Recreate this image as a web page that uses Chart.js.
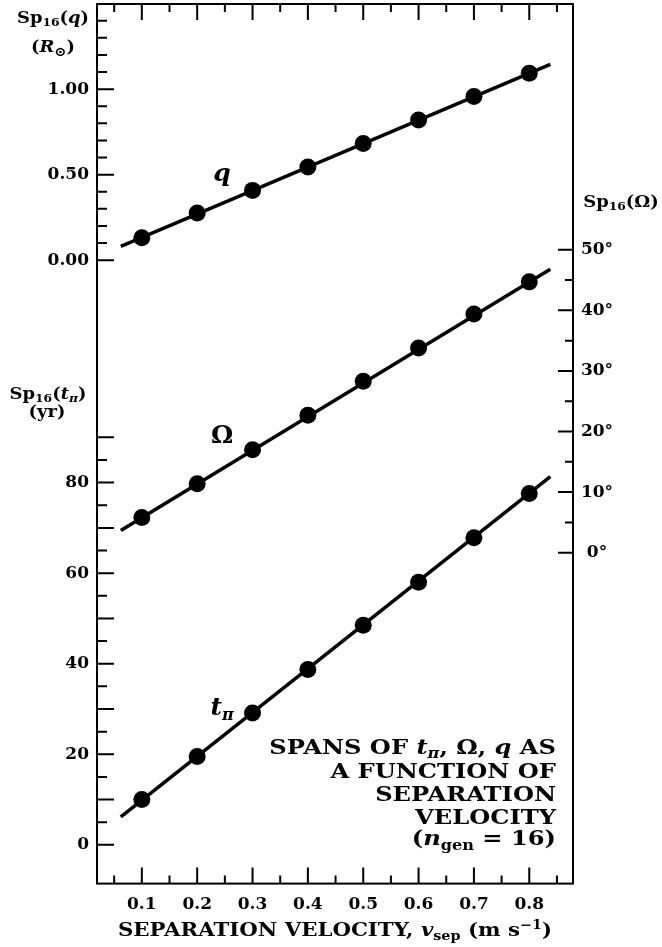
<!DOCTYPE html>
<html>
<head>
<meta charset="utf-8">
<script src="https://cdn.jsdelivr.net/npm/chart.js@4.4.1/dist/chart.umd.min.js"></script>
<style>
  html, body { margin: 0; padding: 0; background: #fff; }
  #wrap { width: 662px; height: 947px; }
</style>
</head>
<body>
<div id="wrap"><canvas id="spans" width="662" height="947"></canvas></div>
<script>
// separation velocity (m/s) and the three spans
const velocity = [0.1, 0.2, 0.3, 0.4, 0.5, 0.6, 0.7, 0.8];
const qSpan = [0.131, 0.276, 0.408, 0.545, 0.682, 0.820, 0.957, 1.093];
const omegaSpan = [5.8, 11.4, 17.0, 22.7, 28.3, 33.8, 39.4, 44.7];
const tSpan = [10.0, 19.5, 29.1, 38.7, 48.5, 58.0, 67.8, 77.6];

// straight fit lines (end points)
const fitVelocity = [0.062, 0.838];
const qFit = [0.08, 1.145];
const omegaFit = [3.65, 46.8];
const tFit = [6.2, 81.3];

// tick labels
const velocityTicks = [0.1, 0.2, 0.3, 0.4, 0.5, 0.6, 0.7, 0.8];
const qTickLabels = [0, 0.5, 1.0];
const tTickLabels = [0, 20, 40, 60, 80];
const omegaTickLabels = [0, 10, 20, 30, 40, 50];

const SERIF = '"DejaVu Serif", "Liberation Serif", serif';
const B = (s) => `bold ${s}px ${SERIF}`;
const BI = (s) => `italic bold ${s}px ${SERIF}`;

function pts(xs, ys) {
  return xs.map((x, i) => ({ x: x, y: ys[i] }));
}

// draw a run of text pieces [text, font, dy], stretched sideways by k
function rich(ctx, parts, x, y, align, k) {
  k = k || 1;
  let w = 0;
  parts.forEach((p) => { ctx.font = p[1]; w += ctx.measureText(p[0]).width; });
  const x0 = align === "right" ? x - w * k : align === "center" ? x - (w * k) / 2 : x;
  ctx.save();
  ctx.translate(x0, y);
  ctx.scale(k, 1);
  ctx.textAlign = "left";
  ctx.textBaseline = "alphabetic";
  let cx = 0;
  parts.forEach((p) => {
    ctx.font = p[1];
    ctx.fillText(p[0], cx, p[2] || 0);
    cx += ctx.measureText(p[0]).width;
  });
  ctx.restore();
}

const frameAndTicks = {
  id: "frameAndTicks",
  afterDraw(chart) {
    const { ctx, chartArea: a, scales } = chart;
    const sx = scales.x, sq = scales.yq, st = scales.yt, so = scales.yo;
    ctx.save();
    ctx.strokeStyle = "#000";
    ctx.fillStyle = "#000";

    // frame
    ctx.lineWidth = 2;
    ctx.strokeRect(a.left, a.top, a.right - a.left, a.bottom - a.top);

    // inward tick marks
    ctx.beginPath();
    for (let i = 1; i <= 17; i++) {
      const px = sx.getPixelForValue(i * 0.05);
      const len = i % 2 === 0 ? 16 : 8;
      ctx.moveTo(px, a.bottom); ctx.lineTo(px, a.bottom - len);
      ctx.moveTo(px, a.top); ctx.lineTo(px, a.top + len);
    }
    for (let i = 0; i <= 14; i++) {
      const py = sq.getPixelForValue(i / 10);
      const len = i % 5 === 0 ? 17 : 10;
      ctx.moveTo(a.left, py); ctx.lineTo(a.left + len, py);
    }
    for (let i = 0; i <= 18; i++) {
      const py = st.getPixelForValue(i * 5);
      const len = i % 2 === 0 ? 17 : 10;
      ctx.moveTo(a.left, py); ctx.lineTo(a.left + len, py);
    }
    for (let i = 0; i <= 10; i++) {
      const py = so.getPixelForValue(i * 5);
      const len = i % 2 === 0 ? 15 : 8;
      ctx.moveTo(a.right, py); ctx.lineTo(a.right - len, py);
    }
    ctx.stroke();

    // y tick labels
    ctx.font = B(17);
    ctx.textBaseline = "middle";
    ctx.textAlign = "right";
    qTickLabels.forEach((v) => ctx.fillText(v.toFixed(2), a.left - 8, sq.getPixelForValue(v)));
    tTickLabels.forEach((v) => ctx.fillText(String(v), a.left - 8, st.getPixelForValue(v)));
    ctx.textAlign = "center";
    omegaTickLabels.forEach((v) => ctx.fillText(v + "\u00b0", a.right + 24, so.getPixelForValue(v)));

    // axis titles
    const T = 16, S = 11, K = 1.12;
    rich(ctx, [["Sp", B(T)], ["16", B(S), 3], ["(", B(T)], ["q", BI(T)], [")", B(T)]], a.left - 44, 23, "center", K);
    rich(ctx, [["(", B(T)], ["R", BI(T)], ["\u2299", B(13), 4], [")", B(T)]], a.left - 44, 52, "center", K);
    rich(ctx, [["Sp", B(T)], ["16", B(S), 3], ["(", B(T)], ["t", BI(T)], ["\u03c0", BI(S), 3], [")", B(T)]], a.left - 49, 399, "center", K);
    rich(ctx, [["(yr)", B(T)]], a.left - 50, 417, "center", K);
    rich(ctx, [["Sp", B(T)], ["16", B(S), 3], ["(\u03a9)", B(T)]], a.right + 48, 207, "center", K);

    // series names, placed in data units
    rich(ctx, [["q", BI(25)]], sx.getPixelForValue(0.245), sq.getPixelForValue(0.46), "center");
    rich(ctx, [["\u03a9", B(25)]], sx.getPixelForValue(0.245), so.getPixelForValue(18.1), "center");
    rich(ctx, [["t", BI(25)], ["\u03c0", BI(16), 5]], sx.getPixelForValue(0.245), st.getPixelForValue(28.6), "center");

    // caption
    const rx = a.right - 17, C = 21, CS = 14, CK = 1.15;
    rich(ctx, [["SPANS OF ", B(C)], ["t", BI(C)], ["\u03c0", BI(CS), 4], [", \u03a9, ", B(C)], ["q", BI(C)], [" AS", B(C)]], rx, 754, "right", CK);
    rich(ctx, [["A FUNCTION OF", B(C)]], rx, 778, "right", CK);
    rich(ctx, [["SEPARATION", B(C)]], rx, 801, "right", CK);
    rich(ctx, [["VELOCITY", B(C)]], rx, 824, "right", CK);
    rich(ctx, [["(", B(C)], ["n", BI(C)], ["gen", B(CS), 5], [" = 16)", B(C)]], rx, 845, "right", CK);

    // x axis title
    const X = 18.5, XS = 12.5;
    rich(ctx, [["SEPARATION VELOCITY, ", B(X)], ["v", BI(X)], ["sep", B(XS), 4], [" (m s", B(X)], ["\u22121", B(XS), -7], [")", B(X)]],
      (a.left + a.right) / 2, 936, "center", 1.15);
    ctx.restore();
  },
};

const black = "#000";
const pointSet = (ys, axis) => ({
  data: pts(velocity, ys), yAxisID: axis, showLine: false,
  pointRadius: 8.5, pointHoverRadius: 8.5, backgroundColor: black, borderColor: black, borderWidth: 0,
});
const fitSet = (ys, axis) => ({
  data: pts(fitVelocity, ys), yAxisID: axis, showLine: true,
  pointRadius: 0, borderColor: black, borderWidth: 3.5, fill: false,
});

new Chart(document.getElementById("spans").getContext("2d"), {
  type: "scatter",
  data: {
    datasets: [
      pointSet(qSpan, "yq"), pointSet(omegaSpan, "yo"), pointSet(tSpan, "yt"),
      fitSet(qFit, "yq"), fitSet(omegaFit, "yo"), fitSet(tFit, "yt"),
    ],
  },
  options: {
    responsive: false,
    animation: false,
    devicePixelRatio: 1,
    layout: { autoPadding: false, padding: { left: 97, right: 89, top: 4, bottom: 21 } },
    plugins: { legend: { display: false }, tooltip: { enabled: false } },
    scales: {
      x: {
        type: "linear", position: "bottom", min: 0.019, max: 0.879,
        grid: { display: false, drawTicks: false },
        border: { display: false },
        afterBuildTicks: (s) => { s.ticks = velocityTicks.map((v) => ({ value: v })); },
        ticks: { color: black, font: { family: SERIF, size: 17, weight: "bold" }, padding: 11, maxRotation: 0,
          callback: (v) => v.toFixed(1) },
      },
      yq: { type: "linear", position: "left", display: false, min: -3.646, max: 1.498 },
      yt: { type: "linear", position: "left", display: false, min: -8.56, max: 185.7 },
      yo: { type: "linear", position: "right", display: false, min: -54.61, max: 90.56 },
    },
  },
  plugins: [frameAndTicks],
});
</script>
</body>
</html>
